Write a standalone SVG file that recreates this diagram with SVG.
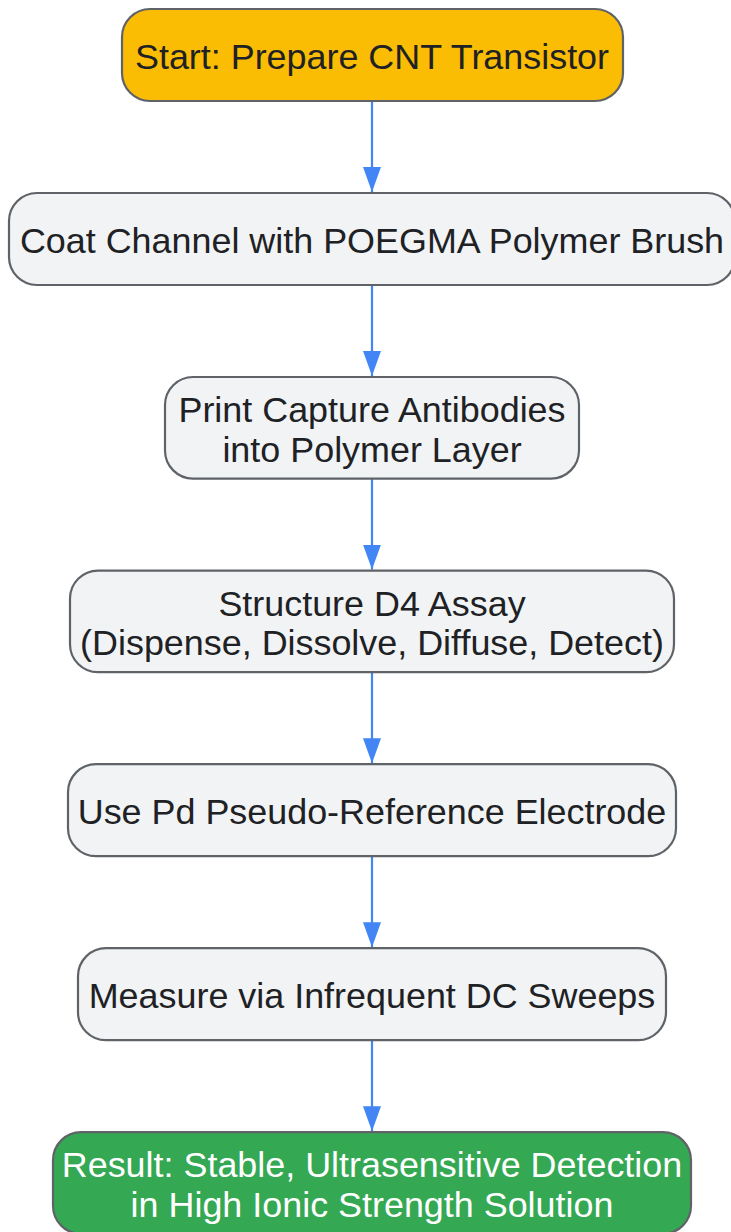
<svg xmlns="http://www.w3.org/2000/svg" width="731" height="1232" viewBox="0 0 731 1232">
<style>
.box{stroke:#5f6368;stroke-width:2.2}
.g{fill:#f1f3f4}
.t{font-family:"Liberation Sans",Arial,sans-serif;font-size:35.9px;fill:#202124;text-anchor:middle}
.w{fill:#ffffff}
.e{stroke:#4285f4;stroke-width:2.2;fill:none}
</style>
<defs>
<marker id="ah" markerUnits="userSpaceOnUse" markerWidth="26" markerHeight="18" refX="25" refY="9" orient="auto" viewBox="0 0 26 18">
<path d="M0,0 L25,9 L0,18 Z" fill="#4285f4"/>
</marker>
</defs>
<g id="connectors">
<line class="e" x1="372" y1="101" x2="372" y2="192" marker-end="url(#ah)"/>
<line class="e" x1="372" y1="285" x2="372" y2="376" marker-end="url(#ah)"/>
<line class="e" x1="372" y1="478.6" x2="372" y2="569.6" marker-end="url(#ah)"/>
<line class="e" x1="372" y1="672.2" x2="372" y2="763.2" marker-end="url(#ah)"/>
<line class="e" x1="372" y1="856.2" x2="372" y2="947.2" marker-end="url(#ah)"/>
<line class="e" x1="372" y1="1040.2" x2="372" y2="1131.2" marker-end="url(#ah)"/>
</g>
<g id="n1">
<rect class="box" x="122" y="9" width="501" height="92" rx="28" fill="#fbbc04"/>
<text class="t" x="372" y="68.5">Start: Prepare CNT Transistor</text>
</g>
<g id="n2">
<rect class="box g" x="9" y="193" width="726" height="92" rx="28"/>
<text class="t" x="372" y="252.5">Coat Channel with POEGMA Polymer Brush</text>
</g>
<g id="n3">
<rect class="box g" x="165" y="377" width="414" height="101.6" rx="28"/>
<text class="t" x="372" y="422">Print Capture Antibodies</text>
<text class="t" x="372" y="461.5">into Polymer Layer</text>
</g>
<g id="n4">
<rect class="box g" x="70" y="570.6" width="604" height="101.6" rx="28"/>
<text class="t" x="372" y="615.6">Structure D4 Assay</text>
<text class="t" x="372" y="655.1">(Dispense, Dissolve, Diffuse, Detect)</text>
</g>
<g id="n5">
<rect class="box g" x="68" y="764.2" width="608" height="92" rx="28"/>
<text class="t" x="372" y="823.7">Use Pd Pseudo-Reference Electrode</text>
</g>
<g id="n6">
<rect class="box g" x="78" y="948.2" width="588" height="92" rx="28"/>
<text class="t" x="372" y="1007.7">Measure via Infrequent DC Sweeps</text>
</g>
<g id="n7">
<rect class="box" x="53" y="1132.2" width="638" height="101.6" rx="28" fill="#34a853"/>
<text class="t w" x="372" y="1177.2">Result: Stable, Ultrasensitive Detection</text>
<text class="t w" x="372" y="1216.7">in High Ionic Strength Solution</text>
</g>
</svg>
